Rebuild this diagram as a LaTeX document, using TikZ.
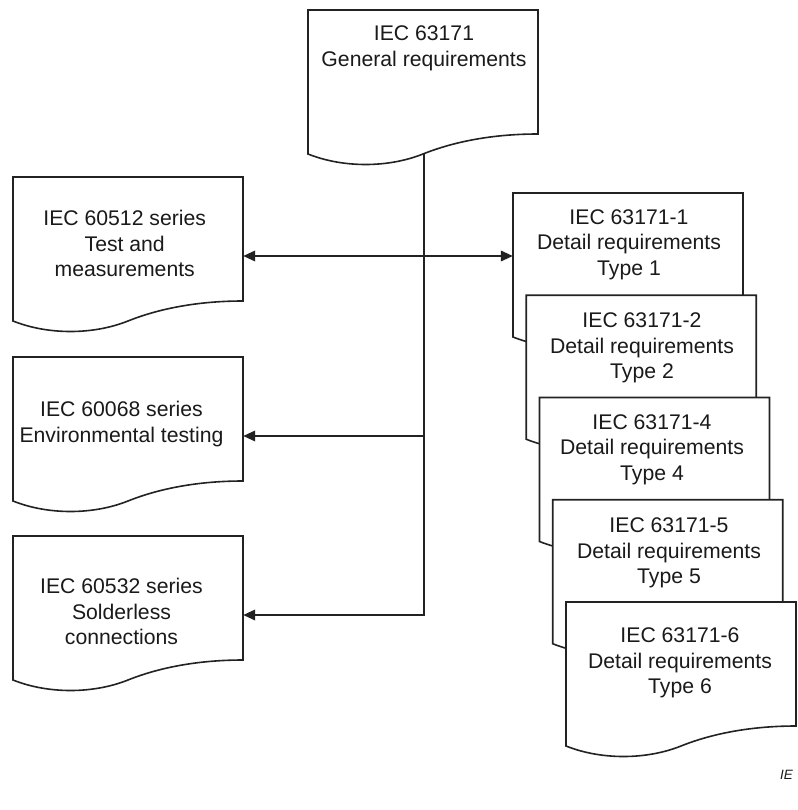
\documentclass[tikz,border=0pt]{standalone}
\usepackage{fontspec}
\setmainfont{Liberation Sans}
\usetikzlibrary{arrows.meta}
\definecolor{ink}{HTML}{222222}
\definecolor{txt}{HTML}{1A1A1A}
\tikzset{
  docline/.style={draw=ink, fill=white, line width=1.6pt, line join=miter},
  boxarea/.style={draw=none, inner sep=0pt, minimum width=230pt, minimum height=124pt},
  lbl/.style={text=txt, align=center, inner sep=0pt,
    font=\fontsize{21.2pt}{25.7pt}\selectfont},
  conn/.style={draw=ink, line width=2pt},
  tip/.style={-{Triangle[length=12pt,width=10.5pt]}},
  tips/.style={{Triangle[length=12pt,width=10.5pt]}-{Triangle[length=12pt,width=10.5pt]}},
}
\newcommand\docshape[2]{%
  \begin{scope}[shift={(#1,#2)}]
    \path[docline] (0,0) -- (230,0) -- (230,124)
      .. controls (190,124) and (150,130) .. (115,144)
      .. controls (80,158) and (35,158) .. (0,144) -- cycle;
  \end{scope}}
\begin{document}
\begin{tikzpicture}[x=1pt,y=-1pt]
\useasboundingbox (0,0) rectangle (797,810);
% shapes
\docshape{308}{10}
\docshape{13}{177}
\docshape{13}{357}
\docshape{13}{536}
\docshape{513}{193}
\docshape{526.25}{295.25}
\docshape{539.5}{397.5}
\docshape{552.75}{499.75}
\docshape{566}{602}
% box areas (named)
\node[boxarea] (top) at (423,72) {};
\node[boxarea] (l1) at (128,239) {};
\node[boxarea] (l2) at (128,419) {};
\node[boxarea] (l3) at (128,598) {};
\node[boxarea] (c1) at (628,255) {};
\node[boxarea] (c2) at (641.25,357.25) {};
\node[boxarea] (c3) at (654.5,459.5) {};
\node[boxarea] (c4) at (667.75,561.75) {};
\node[boxarea] (c5) at (681,664) {};
% texts
\node[lbl] (topt) at (424,48.4) {IEC 63171\\General requirements};
\node[lbl] (l1t) at (124.7,243.5) {IEC 60512 series\\Test and\\measurements};
\node[lbl] (l2t) at (121.5,424) {IEC 60068 series\\Environmental testing};
\node[lbl] (l3t) at (121.5,611.5) {IEC 60532 series\\Solderless\\connections};
\node[lbl] (c1t) at (629,244.5) {IEC 63171-1\\Detail requirements\\Type 1};
\node[lbl] (c2t) at (642,348) {IEC 63171-2\\Detail requirements\\Type 2};
\node[lbl] (c3t) at (652,449.5) {IEC 63171-4\\Detail requirements\\Type 4};
\node[lbl] (c4t) at (669,553) {IEC 63171-5\\Detail requirements\\Type 5};
\node[lbl] (c5t) at (680,663) {IEC 63171-6\\Detail requirements\\Type 6};
\node[text=txt, anchor=west, inner sep=0pt, font=\fontsize{13.5pt}{16pt}\selectfont\itshape] (fig) at (780,775) {IE};
% connectors
\coordinate (ts) at (424,154);
\coordinate (j1) at (424,256);
\coordinate (j2) at (424,436);
\coordinate (j3) at (424,615);
\draw[conn,tip] (ts) -- (j3) -- (j3 -| l3.east);
\draw[conn,tip] (j2) -- (j2 -| l2.east);
\draw[conn,tips] (j1 -| l1.east) -- (j1 -| c1.west);
\end{tikzpicture}
\end{document}
